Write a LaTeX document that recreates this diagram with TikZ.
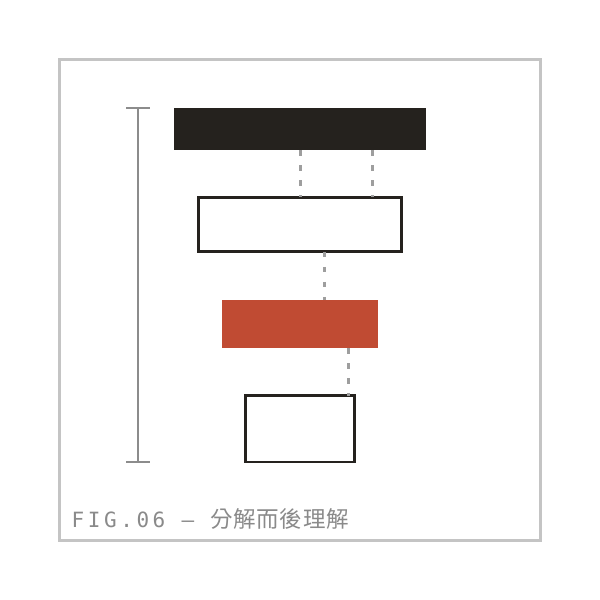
\documentclass[tikz,border=0pt]{standalone}
\usepackage{fontspec}
\newfontfamily\capmono[LetterSpace=17]{DejaVu Sans Mono}
\newfontfamily\capcjk[LetterSpace=3]{Noto Sans CJK TC}
\definecolor{inkc}{HTML}{25221E}
\definecolor{redc}{HTML}{C04B33}
\definecolor{framec}{HTML}{C4C4C4}
\definecolor{scalec}{HTML}{8C8C8C}
\definecolor{dashc}{HTML}{9E9E9E}
\definecolor{capc}{HTML}{8A8A8A}
\begin{document}
\begin{tikzpicture}[x=1pt,y=-1pt,
  solidbar/.style={fill=inkc,draw=none,inner sep=0,outer sep=0},
  redbar/.style={fill=redc,draw=none,inner sep=0,outer sep=0},
  openbox/.style={draw=inkc,line width=2.7pt,fill=white,inner sep=0,outer sep=0},
  link/.style={draw=dashc,line width=3pt,dash pattern=on 5.5pt off 9.5pt},
  scalebar/.style={draw=scalec,line width=2.2pt},
  framebox/.style={draw=framec,line width=2.7pt},
  captext/.style={anchor=base west,inner sep=0,text=capc}]
\useasboundingbox (0,0) rectangle (600,600);
\fill[white] (0,0) rectangle (600,600);
\draw[framebox] (59.5,59.5) rectangle (540.5,540.5);
% scale bar
\coordinate (st) at (138,108);
\coordinate (sb) at (138,462);
\draw[scalebar] (st) -- (sb);
\draw[scalebar] ([xshift=-12pt]st) -- ([xshift=12pt]st);
\draw[scalebar] ([xshift=-12pt]sb) -- ([xshift=12pt]sb);
% bars
\node[solidbar,minimum width=252,minimum height=42] (b1) at (300,129) {};
\node[openbox,minimum width=203.5,minimum height=54.5] (b2) at (300,224.5) {};
\node[redbar,minimum width=156,minimum height=48] (b3) at (300,324) {};
\node[openbox,minimum width=108.7,minimum height=66.3] (b4) at (300,428.8) {};
% connectors
\coordinate (c2) at (372,0);
\coordinate (c3) at (324,0);
\coordinate (c4) at (348,0);
\draw[link] (b1.south) -- (b2.north);
\draw[link] (b1.south -| c2) -- (b2.north -| c2);
\draw[link] (b2.south -| c3) -- (b3.north -| c3);
\draw[link] (b3.south -| c4) -- (b4.north -| c4);
% caption
\node[captext] (cap) at (71.5,527.7) {\fontsize{21}{24}\selectfont\capmono FIG.06\hspace{16.2pt}—\hspace{16.2pt}\capcjk\fontsize{22.5}{24}\selectfont 分解而後理解};
\end{tikzpicture}
\end{document}
